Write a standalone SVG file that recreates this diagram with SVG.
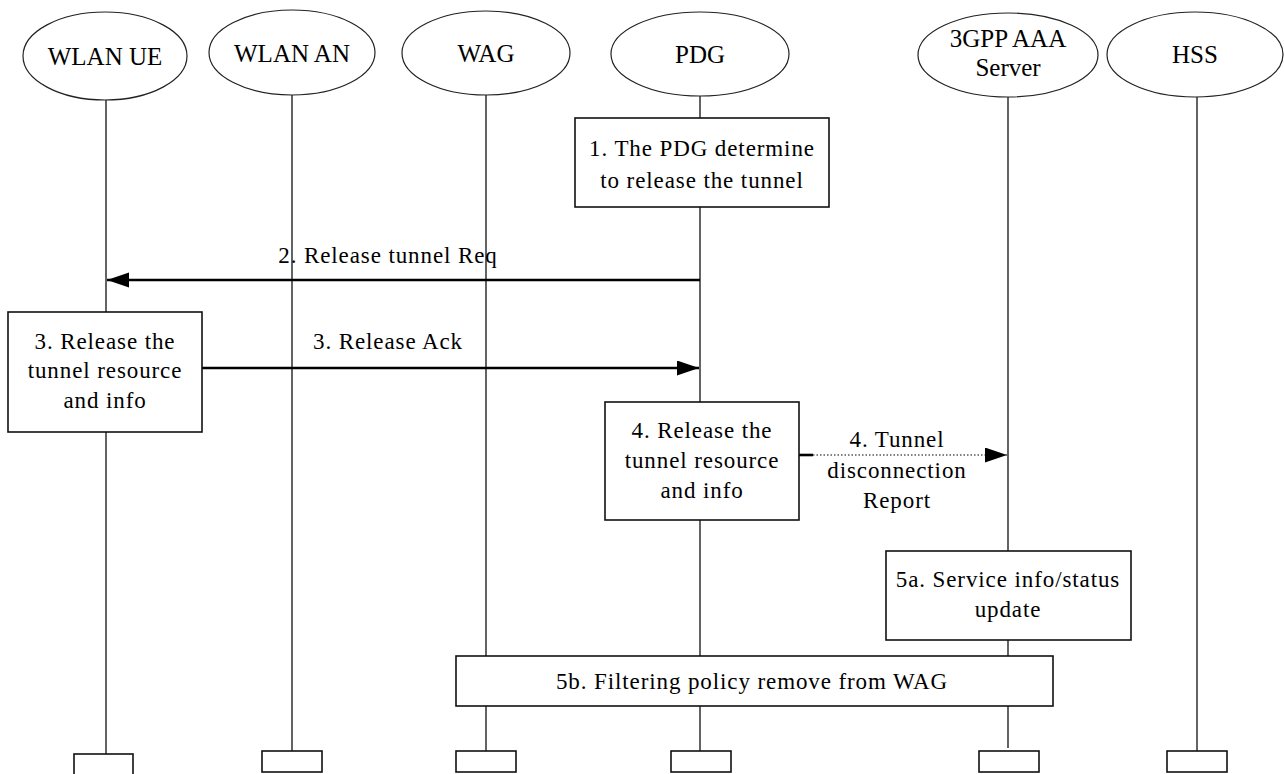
<svg xmlns="http://www.w3.org/2000/svg" width="1284" height="774" viewBox="0 0 1284 774">
<style>
  .ent { fill: #fff; stroke: #222; stroke-width: 1.2; }
  .box { fill: #fff; stroke: #111; stroke-width: 1.6; }
  .life { stroke: #222; stroke-width: 1.4; fill: none; }
  .msg { stroke: #000; stroke-width: 2.6; fill: none; }
  .dot { stroke: #555; stroke-width: 1.3; stroke-dasharray: 1.5 2; fill: none; }
  text { font-family: 'Liberation Serif', 'Times New Roman', Times, serif; fill: #000; text-anchor: middle; }
  .t25 { font-size: 25px; }
  .t22 { font-size: 23px; letter-spacing: 0.9px; }
</style>
<defs>
  <marker id="ah" markerUnits="userSpaceOnUse" markerWidth="23" markerHeight="16" refX="22" refY="7.5" orient="auto">
    <path d="M0,0 L22,7.5 L0,15 Z" fill="#000"/>
  </marker>
</defs>
<rect width="1284" height="774" fill="#fff"/>

<g id="lifelines">
  <line class="life" x1="106" y1="100" x2="106" y2="754"/>
  <line class="life" x1="292" y1="95" x2="292" y2="751"/>
  <line class="life" x1="486" y1="95" x2="486" y2="751"/>
  <line class="life" x1="700" y1="96" x2="700" y2="751"/>
  <line class="life" x1="1008" y1="97" x2="1008" y2="748"/>
  <line class="life" x1="1197" y1="97" x2="1197" y2="751"/>
</g>

<g id="connectors">
  <line class="msg" x1="700" y1="280" x2="107" y2="280" marker-end="url(#ah)"/>
  <line class="msg" x1="202" y1="368" x2="699" y2="368" marker-end="url(#ah)"/>
  <line class="msg" x1="799" y1="455" x2="813" y2="455"/>
  <line class="dot" x1="813" y1="455" x2="1007" y2="455" marker-end="url(#ah)"/>
  <text class="t22" x="388" y="263">2. Release tunnel Req</text>
  <text class="t22" x="388" y="349">3. Release Ack</text>
  <text class="t22" x="897" y="447">4. Tunnel</text>
  <text class="t22" x="897" y="478">disconnection</text>
  <text class="t22" x="897" y="508">Report</text>
</g>

<g id="wlan-ue">
  <ellipse class="ent" cx="105" cy="56" rx="82" ry="44"/>
  <text class="t25" x="105" y="65">WLAN UE</text>
</g>
<g id="wlan-an">
  <ellipse class="ent" cx="292" cy="52.5" rx="83" ry="42.5"/>
  <text class="t25" x="292" y="62">WLAN AN</text>
</g>
<g id="wag">
  <ellipse class="ent" cx="486" cy="53" rx="84" ry="42"/>
  <text class="t25" x="486" y="62">WAG</text>
</g>
<g id="pdg">
  <ellipse class="ent" cx="700" cy="54" rx="89" ry="42"/>
  <text class="t25" x="700" y="63">PDG</text>
</g>
<g id="aaa">
  <ellipse class="ent" cx="1008" cy="55" rx="90" ry="42"/>
  <text class="t25" x="1008" y="47">3GPP AAA</text>
  <text class="t25" x="1008" y="76">Server</text>
</g>
<g id="hss">
  <ellipse class="ent" cx="1195" cy="54.5" rx="88" ry="42.5"/>
  <text class="t25" x="1195" y="63">HSS</text>
</g>

<g id="step1">
  <rect class="box" x="575" y="118" width="254" height="89"/>
  <text class="t22" x="702" y="156">1. The PDG determine</text>
  <text class="t22" x="702" y="188">to release the tunnel</text>
</g>
<g id="step3">
  <rect class="box" x="8" y="312" width="194" height="120"/>
  <text class="t22" x="105" y="349">3. Release the</text>
  <text class="t22" x="105" y="378">tunnel resource</text>
  <text class="t22" x="105" y="408">and info</text>
</g>
<g id="step4">
  <rect class="box" x="605" y="402" width="194" height="118"/>
  <text class="t22" x="702" y="438">4. Release the</text>
  <text class="t22" x="702" y="468">tunnel resource</text>
  <text class="t22" x="702" y="498">and info</text>
</g>
<g id="step5a">
  <rect class="box" x="886" y="551" width="245" height="89"/>
  <text class="t22" x="1008" y="587">5a. Service info/status</text>
  <text class="t22" x="1008" y="617">update</text>
</g>
<g id="step5b">
  <rect class="box" x="456" y="656" width="597" height="50"/>
  <text class="t22" x="752" y="689">5b. Filtering policy remove from WAG</text>
</g>

<g id="ends">
  <rect class="box" x="74" y="754" width="59" height="24"/>
  <rect class="box" x="262" y="751" width="60" height="21"/>
  <rect class="box" x="456" y="751" width="60" height="21"/>
  <rect class="box" x="671" y="751" width="60" height="21"/>
  <rect class="box" x="979" y="751" width="60" height="21"/>
  <rect class="box" x="1167" y="751" width="60" height="21"/>
</g>
</svg>
